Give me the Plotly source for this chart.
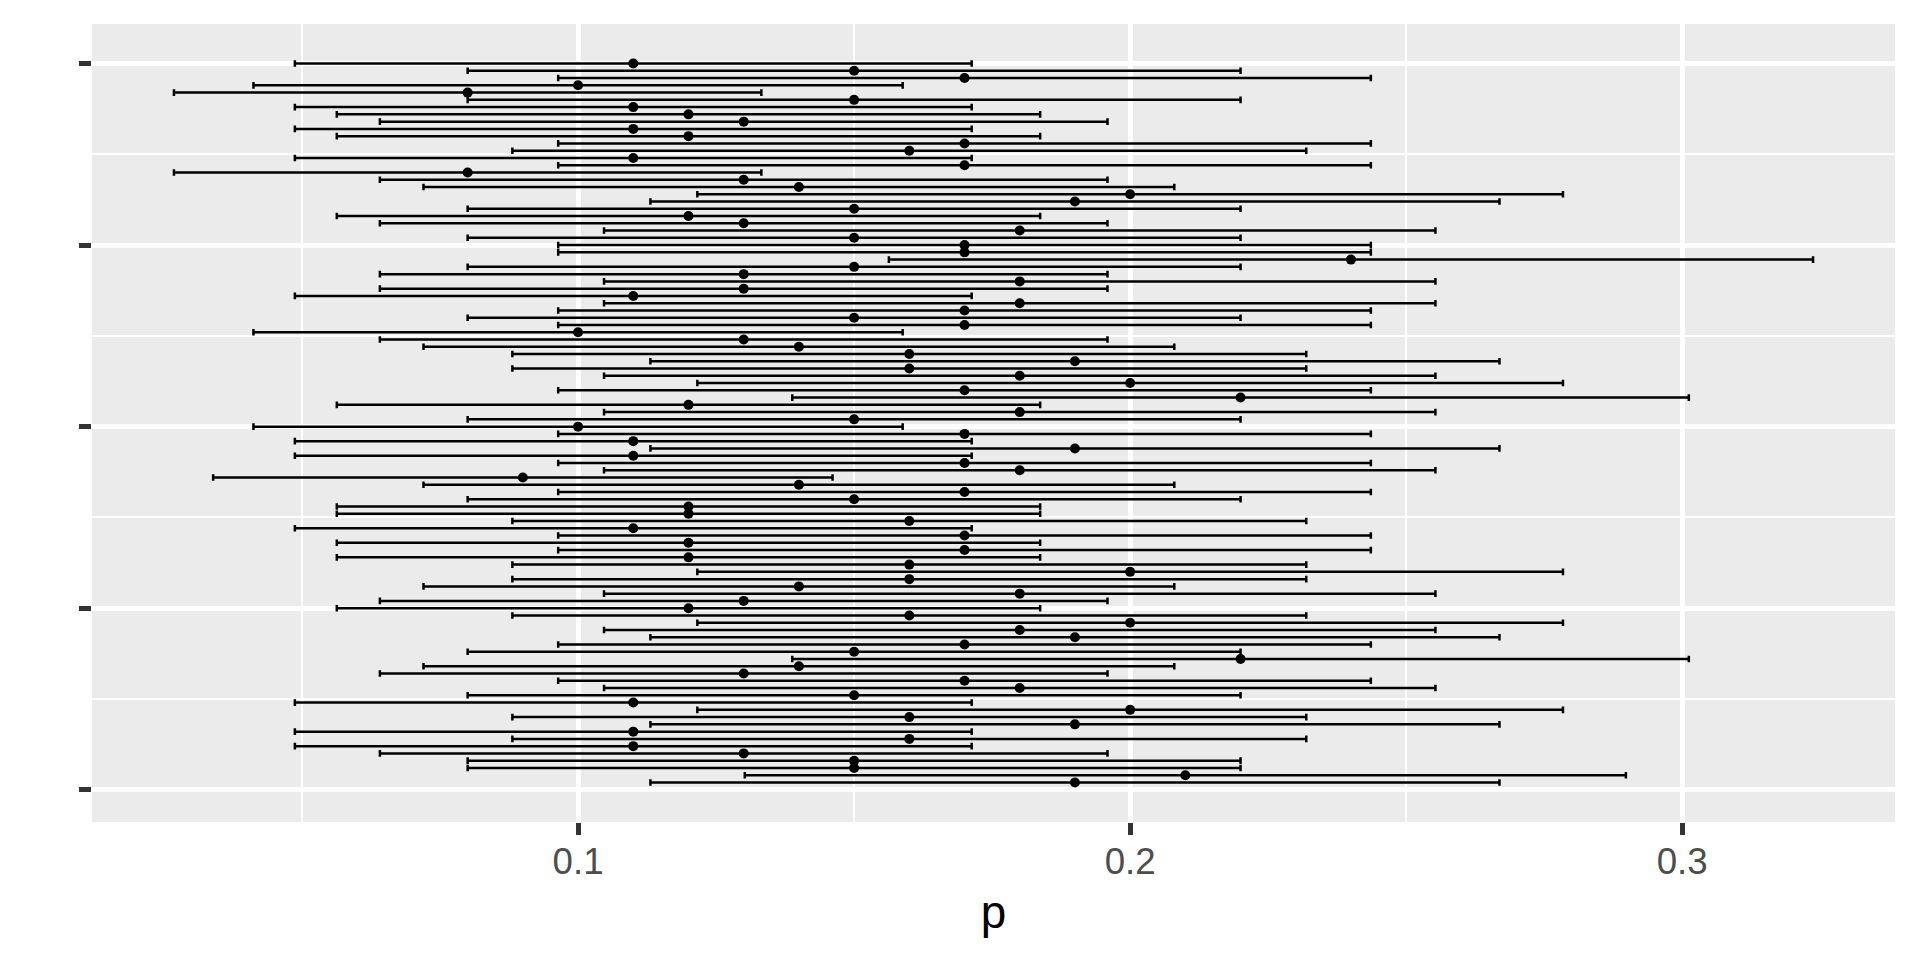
import plotly.graph_objects as go

# Sample index (1 = bottom row, 100 = top row)
sample = list(range(1, 101))

# Point estimates p for each sample
p = [0.19, 0.21, 0.15, 0.15, 0.13, 0.11, 0.16, 0.11, 0.19, 0.16,
     0.20, 0.11, 0.15, 0.18, 0.17, 0.13, 0.14, 0.22, 0.15, 0.17,
     0.19, 0.18, 0.20, 0.16, 0.12, 0.13, 0.18, 0.14, 0.16, 0.20,
     0.16, 0.12, 0.17, 0.12, 0.17, 0.11, 0.16, 0.12, 0.12, 0.15,
     0.17, 0.14, 0.09, 0.18, 0.17, 0.11, 0.19, 0.11, 0.17, 0.10,
     0.15, 0.18, 0.12, 0.22, 0.17, 0.20, 0.18, 0.16, 0.19, 0.16,
     0.14, 0.13, 0.10, 0.17, 0.15, 0.17, 0.18, 0.11, 0.13, 0.18,
     0.13, 0.15, 0.24, 0.17, 0.17, 0.15, 0.18, 0.13, 0.12, 0.15,
     0.19, 0.20, 0.14, 0.13, 0.08, 0.17, 0.11, 0.16, 0.17, 0.12,
     0.11, 0.13, 0.12, 0.11, 0.15, 0.08, 0.10, 0.17, 0.15, 0.11]

# Lower interval bounds
lower = [0.1131, 0.1302, 0.0800, 0.0800, 0.0641, 0.0487, 0.0881, 0.0487, 0.1131, 0.0881,
         0.1216, 0.0487, 0.0800, 0.1047, 0.0964, 0.0641, 0.0720, 0.1388, 0.0800, 0.0964,
         0.1131, 0.1047, 0.1216, 0.0881, 0.0563, 0.0641, 0.1047, 0.0720, 0.0881, 0.1216,
         0.0881, 0.0563, 0.0964, 0.0563, 0.0964, 0.0487, 0.0881, 0.0563, 0.0563, 0.0800,
         0.0964, 0.0720, 0.0339, 0.1047, 0.0964, 0.0487, 0.1131, 0.0487, 0.0964, 0.0412,
         0.0800, 0.1047, 0.0563, 0.1388, 0.0964, 0.1216, 0.1047, 0.0881, 0.1131, 0.0881,
         0.0720, 0.0641, 0.0412, 0.0964, 0.0800, 0.0964, 0.1047, 0.0487, 0.0641, 0.1047,
         0.0641, 0.0800, 0.1563, 0.0964, 0.0964, 0.0800, 0.1047, 0.0641, 0.0563, 0.0800,
         0.1131, 0.1216, 0.0720, 0.0641, 0.0268, 0.0964, 0.0487, 0.0881, 0.0964, 0.0563,
         0.0487, 0.0641, 0.0563, 0.0487, 0.0800, 0.0268, 0.0412, 0.0964, 0.0800, 0.0487]

# Upper interval bounds
upper = [0.2669, 0.2898, 0.2200, 0.2200, 0.1959, 0.1713, 0.2319, 0.1713, 0.2669, 0.2319,
         0.2784, 0.1713, 0.2200, 0.2553, 0.2436, 0.1959, 0.2080, 0.3012, 0.2200, 0.2436,
         0.2669, 0.2553, 0.2784, 0.2319, 0.1837, 0.1959, 0.2553, 0.2080, 0.2319, 0.2784,
         0.2319, 0.1837, 0.2436, 0.1837, 0.2436, 0.1713, 0.2319, 0.1837, 0.1837, 0.2200,
         0.2436, 0.2080, 0.1461, 0.2553, 0.2436, 0.1713, 0.2669, 0.1713, 0.2436, 0.1588,
         0.2200, 0.2553, 0.1837, 0.3012, 0.2436, 0.2784, 0.2553, 0.2319, 0.2669, 0.2319,
         0.2080, 0.1959, 0.1588, 0.2436, 0.2200, 0.2436, 0.2553, 0.1713, 0.1959, 0.2553,
         0.1959, 0.2200, 0.3237, 0.2436, 0.2436, 0.2200, 0.2553, 0.1959, 0.1837, 0.2200,
         0.2669, 0.2784, 0.2080, 0.1959, 0.1332, 0.2436, 0.1713, 0.2319, 0.2436, 0.1837,
         0.1713, 0.1959, 0.1837, 0.1713, 0.2200, 0.1332, 0.1588, 0.2436, 0.2200, 0.1713]

x_ticks = [0.1, 0.2, 0.3]
x_tick_labels = ["0.1", "0.2", "0.3"]
y_ticks = [0, 25, 50, 75, 100]

err_plus = [u - v for u, v in zip(upper, p)]
err_minus = [v - l for v, l in zip(p, lower)]

fig = go.Figure()
fig.add_trace(go.Scatter(
    x=p, y=sample, mode="markers",
    marker=dict(color="black", size=10),
    error_x=dict(type="data", symmetric=False, array=err_plus, arrayminus=err_minus,
                 color="black", thickness=2.5, width=3.3),
    showlegend=False, hoverinfo="skip",
))

# ggplot-style expansion (5%); the error-bar caps (height 0.9) widen the y extent
CAP = 0.9
xmin = min(lower); xmax = max(upper)
xpad = (xmax - xmin) * 0.05
ylo = min(sample) - CAP / 2; yhi = max(sample) + CAP / 2
ypad = (yhi - ylo) * 0.05

FONT = "Liberation Sans, Arial, Helvetica, sans-serif"

fig.update_layout(
    width=1920, height=960,
    paper_bgcolor="white", plot_bgcolor="#EBEBEB",
    margin=dict(l=84, r=33, t=16, b=146, autoexpand=False),
    font=dict(family=FONT),
    xaxis=dict(
        range=[xmin - xpad, xmax + xpad],
        tickvals=x_ticks, ticktext=x_tick_labels,
        ticks="outside", ticklen=12, tickwidth=4.5, tickcolor="#333333",
        tickfont=dict(size=36.7, color="#4D4D4D", family=FONT),
        ticklabelstandoff=-5,
        showgrid=True, gridcolor="white", gridwidth=4.5,
        minor=dict(tickvals=[0.05, 0.15, 0.25], showgrid=True, gridcolor="white", gridwidth=2.3),
        zeroline=False, showline=False,
        title=dict(text="p", font=dict(size=45.8, color="black", family=FONT), standoff=14),
        automargin=False,
    ),
    yaxis=dict(
        range=[ylo - ypad, yhi + ypad],
        tickvals=y_ticks, showticklabels=False,
        ticks="outside", ticklen=12, tickwidth=4.5, tickcolor="#333333",
        showgrid=True, gridcolor="white", gridwidth=4.5,
        minor=dict(tickvals=[12.5, 37.5, 62.5, 87.5], showgrid=True, gridcolor="white", gridwidth=2.3),
        zeroline=False, showline=False,
        title=dict(text=""),
        automargin=False,
    ),
)

fig.write_html("out.html")
